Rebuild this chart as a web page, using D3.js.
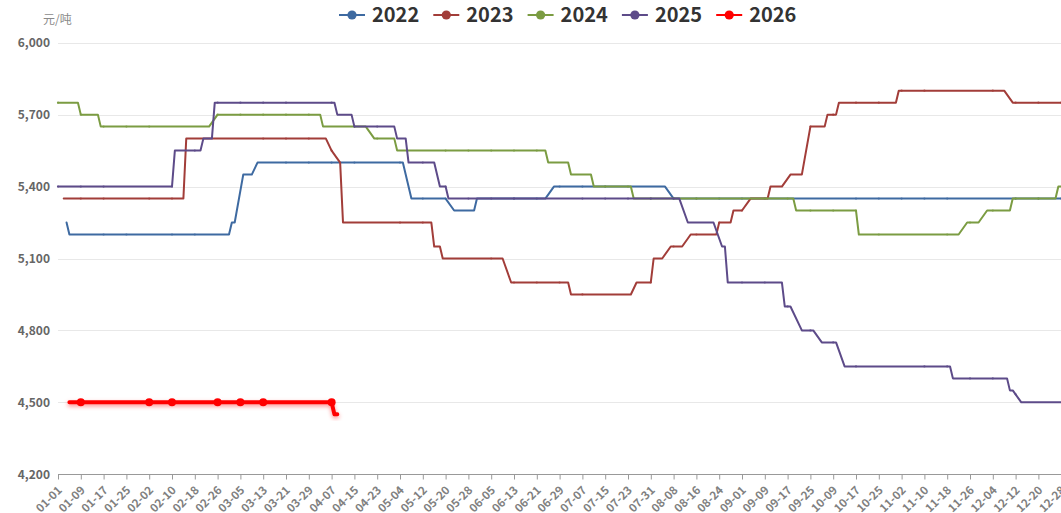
<!DOCTYPE html>
<html>
<head>
<meta charset="utf-8">
<script src="https://cdn.jsdelivr.net/npm/d3@7/dist/d3.min.js"></script>
<style>
  html, body { margin: 0; padding: 0; background: #fff; overflow: hidden; }
  svg { display: block; }
  text { font-family: "Microsoft YaHei", "Noto Sans CJK SC", "Noto Sans", sans-serif; }
</style>
</head>
<body>
<svg id="chart" width="1061" height="513"></svg>
<script>
// ---- Category axis: month-day slots shared by all years (Feb 29 kept, closed days dropped)
const monthLengths = [31, 29, 31, 30, 31, 30, 31, 31, 30, 31, 30, 31];
const skippedDays = ['04-05', '05-01', '05-02', '05-03', '10-01', '10-02', '10-03', '10-04', '10-05', '10-06'];
const tickLabels = ['01-01','01-09','01-17','01-25','02-02','02-10','02-18','02-26','03-05','03-13','03-21','03-29',
  '04-07','04-15','04-23','05-04','05-12','05-20','05-28','06-05','06-13','06-21','06-29','07-07','07-15','07-23',
  '07-31','08-08','08-16','08-24','09-01','09-09','09-17','09-25','10-09','10-17','10-25','11-02','11-10','11-18',
  '11-26','12-04','12-12','12-20','12-28'];
const yTicks = [4200, 4500, 4800, 5100, 5400, 5700, 6000];
const unitLabel = '元/吨';

// ---- Price series (元/吨): [month-day, price] vertices of each year's line
const years = ['2022', '2023', '2024', '2025', '2026'];
const colors = ['#3e6aa1', '#a23d39', '#7b9c42', '#5d4b89', '#ff0000'];
const price2022 = [
  ['01-04',5250],['01-05',5200],['03-01',5200],['03-02',5250],['03-03',5250],['03-06',5450],['03-09',5450],['03-11',5500],
  ['05-05',5500],['05-08',5350],['05-20',5350],['05-23',5300],['05-30',5300],['05-31',5350],['06-24',5350],['06-27',5400],
  ['08-05',5400],['08-08',5350],['12-30',5350]
];
const price2023 = [
  ['01-03',5350],['02-14',5350],['02-15',5600],['04-04',5600],['04-07',5550],['04-10',5500],['04-11',5250],
  ['05-15',5250],['05-16',5150],['05-18',5150],['05-19',5100],['06-09',5100],['06-12',5000],
  ['07-02',5000],['07-03',4950],['07-24',4950],['07-26',5000],['07-31',5000],['08-01',5100],['08-04',5100],['08-07',5150],
  ['08-11',5150],['08-14',5200],['08-23',5200],['08-24',5250],['08-28',5250],['08-29',5300],['09-01',5300],['09-04',5350],
  ['09-10',5350],['09-11',5400],['09-15',5400],['09-18',5450],['09-22',5450],['09-25',5650],['09-30',5650],['10-07',5700],
  ['10-10',5700],['10-11',5750],['10-31',5750],['11-01',5800],['12-08',5800],['12-11',5750],['12-29',5750]
];
const price2024 = [
  ['01-01',5750],['01-08',5750],['01-09',5700],['01-15',5700],['01-16',5650],['02-23',5650],['02-26',5700],
  ['04-02',5700],['04-03',5650],['04-19',5650],['04-22',5600],['04-29',5600],['04-30',5550],
  ['06-24',5550],['06-25',5500],['07-02',5500],['07-03',5450],['07-10',5450],['07-11',5400],['07-24',5400],['07-25',5350],
  ['09-19',5350],['09-20',5300],['10-17',5300],['10-18',5200],['11-22',5200],['11-25',5250],['11-29',5250],['12-02',5300],
  ['12-10',5300],['12-11',5350],['12-26',5350],['12-27',5400],['12-31',5400]
];
const price2025 = [
  ['01-01',5400],['02-10',5400],['02-11',5550],['02-20',5550],['02-21',5600],['02-24',5600],['02-25',5750],
  ['04-08',5750],['04-09',5700],['04-14',5700],['04-15',5650],['04-29',5650],['04-30',5600],['05-06',5600],['05-07',5500],
  ['05-16',5500],['05-18',5400],['05-20',5400],['05-21',5350],['08-10',5350],['08-13',5250],['08-22',5250],['08-25',5150],
  ['08-26',5150],['08-27',5000],['09-15',5000],['09-16',4900],['09-18',4900],['09-22',4800],['09-26',4800],['09-29',4750],
  ['10-10',4750],['10-13',4650],['11-19',4650],['11-20',4600],['12-09',4600],['12-10',4550],['12-11',4550],['12-14',4500],
  ['12-31',4500]
];
const price2026 = [['01-05',4500],['04-07',4500],['04-08',4450],['04-09',4450]];
const seriesPrices = [price2022, price2023, price2024, price2025, price2026];

// Spring Festival closures (no quote on these days)
const springBreak = { 2022: ['01-31','02-04'], 2023: ['01-23','01-27'], 2024: ['02-12','02-16'], 2025: ['01-28','02-04'], 2026: ['02-16','02-23'] };

const categories = [];
monthLengths.forEach((n, m) => {
  for (let d = 1; d <= n; d++) {
    const key = String(m + 1).padStart(2, '0') + '-' + String(d).padStart(2, '0');
    if (!skippedDays.includes(key)) categories.push(key);
  }
});

// ---- Layout
const svg = d3.select('#chart');
const plotLeft = 58, plotTop = 42.7, plotBottom = 474.3, step = 2.85;

const x = d3.scalePoint().domain(categories).range([plotLeft, plotLeft + step * (categories.length - 1)]);
const y = d3.scaleLinear().domain([4200, 6000]).range([plotBottom, plotTop]);

// Grid lines
svg.append('g').selectAll('line').data(yTicks.filter(v => v !== 4200)).join('line')
  .attr('x1', plotLeft).attr('x2', 1080)
  .attr('y1', d => Math.round(y(d)) + 0.5).attr('y2', d => Math.round(y(d)) + 0.5)
  .attr('stroke', '#e8e8e8').attr('stroke-width', 1);

// Y axis labels
const yAxis = d3.axisLeft(y).tickValues(yTicks).tickFormat(d3.format(',')).tickSize(0).tickPadding(8);
const yg = svg.append('g').attr('transform', `translate(${plotLeft},0)`).call(yAxis);
yg.select('.domain').remove();
yg.selectAll('text').attr('fill', '#666').attr('font-size', 12).attr('font-weight', 'bold')
  .style('font-family', '"Microsoft YaHei", "Noto Sans CJK SC", sans-serif');

svg.append('text').attr('x', 43).attr('y', 24).attr('font-size', 12).attr('fill', '#8a8a8a').text(unitLabel);

// X axis
const xAxis = d3.axisBottom(x).tickValues(tickLabels).tickSize(5).tickPadding(0);
const xg = svg.append('g').attr('transform', `translate(0,${Math.round(plotBottom) + 0.5})`).call(xAxis);
xg.select('.domain').attr('stroke', '#999').attr('d', `M${plotLeft},0H1080`);
xg.selectAll('.tick line').attr('stroke', '#999');
xg.selectAll('.tick text')
  .attr('fill', '#808080').attr('font-size', 11.5).attr('font-weight', 'bold')
  .style('font-family', '"Microsoft YaHei", "Noto Sans CJK SC", sans-serif')
  .attr('text-anchor', 'end').attr('dy', '0.35em')
  .attr('transform', 'translate(-2,10) rotate(-45)');

// ---- Lines
const defs = svg.append('defs');
const glow = defs.append('filter').attr('id', 'glow').attr('x', '-5%').attr('y', '-50%').attr('width', '110%').attr('height', '200%');
glow.append('feGaussianBlur').attr('in', 'SourceGraphic').attr('stdDeviation', 2.2).attr('result', 'b');
glow.append('feOffset').attr('in', 'b').attr('dy', 1.5).attr('result', 'o');
glow.append('feColorMatrix').attr('in', 'o').attr('type', 'matrix')
  .attr('values', '1 0 0 0 0  0 1 0 0 0  0 0 1 0 0  0 0 0 0.45 0').attr('result', 'c');
const mg = glow.append('feMerge');
mg.append('feMergeNode').attr('in', 'c');
mg.append('feMergeNode').attr('in', 'SourceGraphic');

const idx = new Map(categories.map((c, i) => [c, i]));
const line = d3.line().x(d => x(d[0])).y(d => y(d[1]));

function isQuoteDay(year, md) {
  const dt = new Date(+year, +md.slice(0, 2) - 1, +md.slice(3));
  if (dt.getMonth() !== +md.slice(0, 2) - 1) return false;
  const wd = dt.getDay();
  if (wd === 0 || wd === 6) return false;
  const br = springBreak[year];
  return !(br && md >= br[0] && md <= br[1]);
}
function valueAt(pts, md) {
  const i = idx.get(md);
  for (let k = 0; k < pts.length - 1; k++) {
    const a = idx.get(pts[k][0]), b = idx.get(pts[k + 1][0]);
    if (i >= a && i <= b) return b === a ? pts[k][1] : pts[k][1] + (pts[k + 1][1] - pts[k][1]) * (i - a) / (b - a);
  }
  return null;
}

years.forEach((yr, s) => {
  const pts = seriesPrices[s];
  const isCurrent = s === years.length - 1;
  const g = svg.append('g');
  g.append('path').datum(pts).attr('d', line)
    .attr('fill', 'none').attr('stroke', colors[s])
    .attr('stroke-width', isCurrent ? 4 : 2)
    .attr('stroke-linejoin', 'round').attr('stroke-linecap', 'round')
    .attr('filter', isCurrent ? 'url(#glow)' : null);
  const first = idx.get(pts[0][0]), last = idx.get(pts[pts.length - 1][0]);
  const marks = tickLabels.filter(t => idx.get(t) >= first && idx.get(t) <= last && isQuoteDay(yr, t));
  g.selectAll('circle').data(marks).join('circle')
    .attr('cx', d => x(d)).attr('cy', d => y(valueAt(pts, d)))
    .attr('r', isCurrent ? 4 : 1.1).attr('fill', colors[s]).attr('fill-opacity', isCurrent ? 1 : 0.8);
});

// ---- Legend
const legendStart = 339, legendStep = 94.3;
years.forEach((yr, s) => {
  const g = svg.append('g').attr('transform', `translate(${legendStart + s * legendStep},0)`);
  g.append('line').attr('x1', 0).attr('x2', 26).attr('y1', 15).attr('y2', 15)
    .attr('stroke', colors[s]).attr('stroke-width', 2);
  g.append('circle').attr('cx', 13).attr('cy', 15).attr('r', 4.6).attr('fill', colors[s]);
  g.append('text').attr('x', 33).attr('y', 22).attr('font-size', 20).attr('font-weight', 'bold')
    .attr('fill', '#333').text(yr);
});
</script>
</body>
</html>
